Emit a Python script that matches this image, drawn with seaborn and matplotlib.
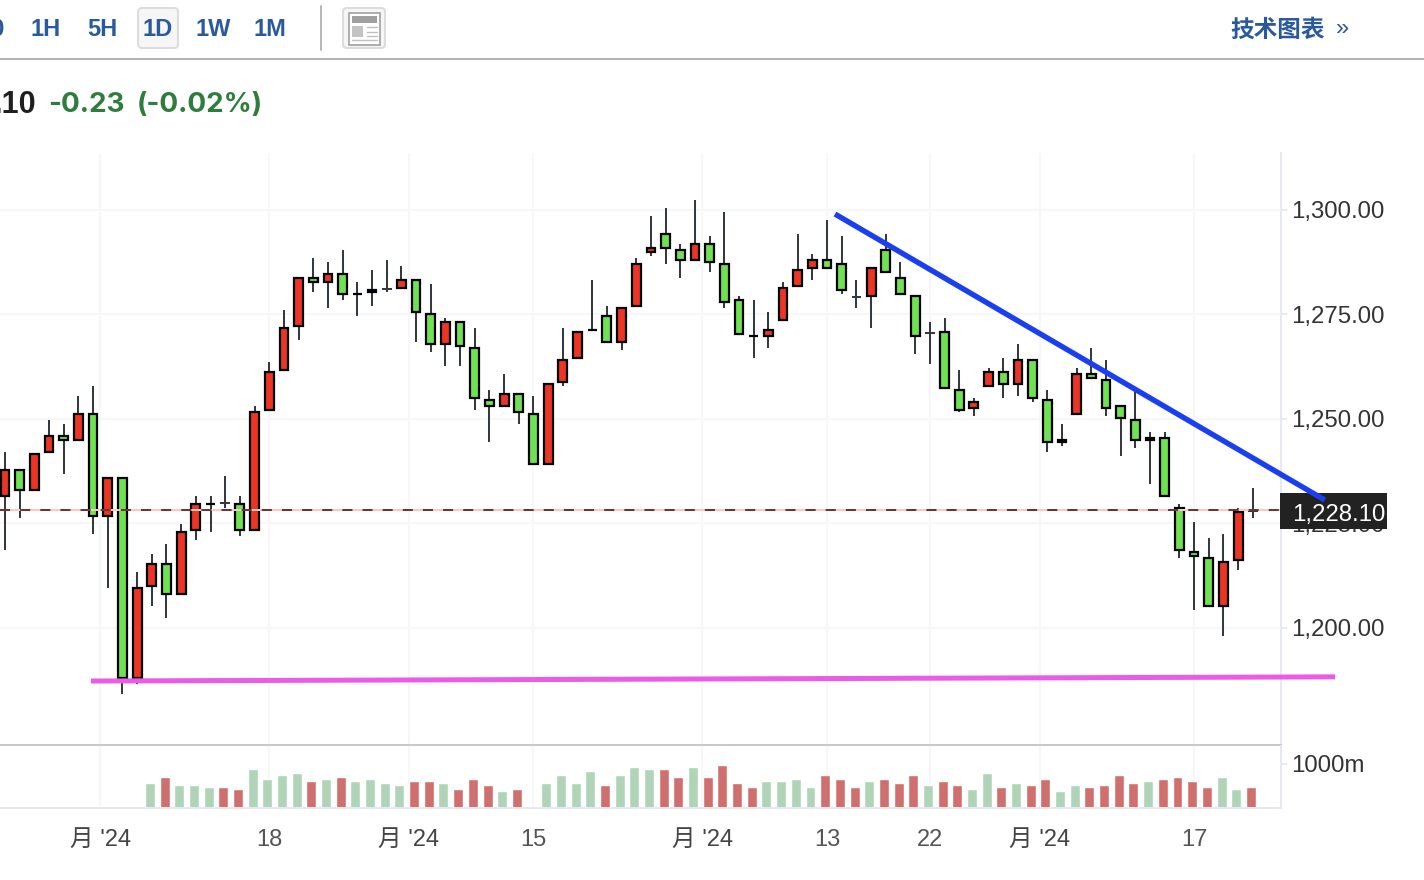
import matplotlib
matplotlib.use('Agg')
import matplotlib.pyplot as plt
from matplotlib.patches import FancyBboxPatch, Rectangle
from matplotlib.transforms import blended_transform_factory
import pandas as pd
import seaborn as sns

# candles (price)
wick_high = [1242.1, 1238.0, 1241.9, 1249.8, 1248.8, 1255.5, 1257.9, 1236.1, 1236.1, 1213.4,
             1217.7, 1220.1, 1224.9, 1231.6, 1231.6, 1236.4, 1231.6, 1253.1, 1263.6, 1276.1,
             1284.0, 1288.5, 1287.6, 1290.4, 1282.8, 1285.6, 1288.0, 1286.6, 1283.5, 1282.3,
             1274.2, 1273.4, 1271.8, 1256.9, 1260.8, 1256.2, 1255.5, 1258.6, 1271.8, 1271.1,
             1283.3, 1277.0, 1276.8, 1288.5, 1298.6, 1300.5, 1291.9, 1302.4, 1293.8, 1299.5,
             1279.4, 1278.5, 1275.6, 1282.8, 1294.3, 1289.5, 1297.6, 1293.8, 1283.3, 1286.4,
             1294.3, 1287.6, 1279.7, 1273.2, 1274.2, 1261.7, 1255.0, 1262.2, 1264.6, 1267.9,
             1264.4, 1256.9, 1248.8, 1262.2, 1267.0, 1264.1, 1253.4, 1256.5, 1246.9, 1246.9,
             1229.7, 1225.4, 1221.5, 1222.5, 1228.7, 1233.5]
body_high = [1238.0, 1238.0, 1241.9, 1246.2, 1246.2, 1251.4, 1251.4, 1236.1, 1236.1, 1209.8,
             1215.6, 1215.6, 1223.2, 1229.9, 1229.9, 1229.9, 1229.9, 1251.9, 1261.5, 1272.0,
             1284.0, 1284.0, 1284.9, 1284.9, 1280.1, 1281.1, 1281.1, 1283.5, 1283.5, 1275.4,
             1273.4, 1273.4, 1267.2, 1254.8, 1256.2, 1256.2, 1251.4, 1258.6, 1264.4, 1271.1,
             1271.5, 1274.9, 1276.8, 1287.3, 1291.1, 1294.5, 1290.7, 1292.1, 1292.1, 1287.3,
             1278.7, 1270.1, 1271.5, 1281.6, 1285.9, 1288.3, 1288.3, 1287.3, 1279.2, 1286.4,
             1290.7, 1284.0, 1279.7, 1270.6, 1271.1, 1257.2, 1254.3, 1261.5, 1261.5, 1264.4,
             1264.4, 1254.8, 1245.2, 1261.0, 1261.0, 1259.6, 1253.4, 1250.0, 1245.7, 1245.7,
             1228.9, 1218.4, 1217.0, 1216.0, 1228.0, 1228.0]
body_low = [1231.3, 1232.8, 1232.8, 1241.9, 1244.7, 1244.7, 1226.6, 1226.6, 1187.8, 1187.8,
            1209.8, 1207.9, 1207.9, 1223.2, 1229.4, 1229.9, 1223.2, 1223.2, 1251.9, 1261.5,
            1272.0, 1282.5, 1282.5, 1279.7, 1279.7, 1280.1, 1281.1, 1281.1, 1275.4, 1267.7,
            1267.7, 1267.2, 1254.8, 1252.9, 1252.9, 1251.4, 1239.0, 1239.0, 1258.6, 1264.4,
            1271.1, 1268.2, 1268.2, 1276.8, 1289.7, 1290.7, 1287.8, 1287.8, 1287.3, 1277.8,
            1270.1, 1269.6, 1269.6, 1273.4, 1281.6, 1285.9, 1285.9, 1280.6, 1279.2, 1279.2,
            1284.9, 1279.7, 1269.6, 1270.6, 1257.2, 1251.9, 1252.4, 1257.7, 1258.1, 1258.1,
            1254.8, 1244.3, 1244.3, 1251.0, 1259.6, 1252.4, 1250.0, 1244.7, 1244.7, 1231.3,
            1218.4, 1217.0, 1205.0, 1205.0, 1216.0, 1228.0]
wick_low = [1218.7, 1226.3, 1232.8, 1241.9, 1236.8, 1244.7, 1222.5, 1209.6, 1184.2, 1186.6,
            1205.3, 1202.4, 1207.9, 1221.1, 1223.0, 1228.7, 1222.0, 1223.2, 1251.9, 1261.5,
            1268.9, 1280.4, 1276.6, 1278.5, 1274.6, 1277.0, 1280.4, 1281.1, 1268.4, 1266.0,
            1262.7, 1262.7, 1252.2, 1244.5, 1252.9, 1248.8, 1239.0, 1239.0, 1257.9, 1264.4,
            1271.1, 1268.2, 1266.5, 1276.8, 1289.0, 1287.1, 1283.7, 1287.8, 1285.2, 1276.6,
            1270.1, 1264.6, 1267.0, 1273.4, 1281.6, 1283.3, 1285.9, 1279.9, 1276.6, 1271.8,
            1284.9, 1279.7, 1265.6, 1263.2, 1257.2, 1251.7, 1250.7, 1257.7, 1255.0, 1255.5,
            1254.1, 1242.1, 1243.5, 1251.0, 1259.6, 1250.7, 1241.2, 1243.1, 1234.5, 1231.3,
            1216.7, 1204.3, 1205.0, 1198.1, 1213.9, 1226.3]
# r red, g green, d doji (just a dash)
candle_kind = list('rgrrgrgrgr'
                   'rgrrgdgrrr'
                   'rgrggrdrgg'
                   'rgggrggrrr'
                   'ggrrrggrgg'
                   'ggrrrrggdr'
                   'gggdggrrgr'
                   'ggrrggggrg'
                   'gggrrd')

# volume (millions), one candle has no bar
vol_idx = list(range(10, 36)) + list(range(37, 86))
vol_values = [574, 710, 529, 529, 484, 484, 438, 892, 665, 756,
              801, 620, 665, 710, 620, 665, 574, 529, 620, 620,
              574, 438, 665, 529, 393, 438,
              574, 756, 574, 847, 529, 756, 938, 892, 892, 710,
              938, 710, 983, 574, 484, 620, 620, 665, 484, 756,
              665, 484, 620, 665, 574, 756, 529, 620, 529, 438,
              801, 484, 574, 529, 665, 393, 529, 484, 529, 756,
              574, 620, 665, 710, 620, 484, 710, 438, 484]
vol_side = list('grgggrrggg'
                'grgrggggrr'
                'grrrgr'
                'ggggrgggrr'
                'grrrrggggr'
                'rrgrrrgrrg'
                'grgrrggrrr'
                'rgrrrrggr')

# trend lines drawn on the chart
blue_x = [56.54, 89.9]
blue_y = [1299.0, 1230.6]
pink_x = [5.86, 90.6]
pink_y = [1187.3, 1188.3]

last_price = 1228.1
price_ticks = [1200, 1225, 1250, 1275, 1300]
price_labels = ['1,200.00', '1,225.00', '1,250.00', '1,275.00', '1,300.00']
time_ticks = [6.5, 18, 27.5, 36, 47.5, 56, 63, 70.5, 81]
time_labels = ["月 '24", '18', "月 '24", '15', "月 '24", '13', '22', "月 '24", '17']

RED = '#EE3424'
GREEN = '#6EE250'
BLUE_TXT = '#2A5A9C'
LINE = '#E6E9EF'
GRID = '#F7F7F8'
LW = 1.45  # 2 px at dpi 100

sns.set_theme(style='white')
plt.rcParams['font.family'] = ['Liberation Sans', 'Noto Sans CJK SC', 'DejaVu Sans']

fig = plt.figure(figsize=(14.24, 8.8), dpi=100, facecolor='white')
ax = fig.add_axes([0, 1 - 745 / 880, 1281 / 1424, (745 - 153) / 880])
ax_v = fig.add_axes([0, 1 - 808 / 880, 1281 / 1424, (808 - 746) / 880])

idx = list(range(len(wick_high)))

# candles
ax.vlines(idx, wick_low, wick_high, color='#343B40', lw=LW, zorder=3)
pad = 0.24  # the readings include the outline
for i in idx:
    if candle_kind[i] == 'd':
        ax.hlines(body_high[i], i - 0.33, i + 0.33, color='#343B40', lw=LW, zorder=3)
        continue
    lo, hi = body_low[i] + pad, body_high[i] - pad
    if hi < lo:
        lo = hi = (lo + hi) / 2
    ax.bar(i, hi - lo, bottom=lo, width=0.6, color=RED if candle_kind[i] == 'r' else GREEN,
           edgecolor='black', linewidth=1.6, zorder=4)

# last price line
ax.axhline(last_price, color='#F9C9C5', lw=LW, zorder=5)
ax.axhline(last_price, color='#6E3434', lw=LW, dashes=(5, 5), zorder=5.1)

ax.set_xlim(-0.34, 86.92)
ax.set_ylim(1172.0, 1313.6)
ax.set_xticks(time_ticks)
ax.set_yticks(price_ticks, labels=price_labels)
ax.yaxis.tick_right()
ax.tick_params(axis='x', length=0, labelbottom=False)
ax.tick_params(axis='y', length=4.3, width=LW, color=LINE, pad=3.0, labelsize=17.3, labelcolor='#333333')
ax.grid(True, color=GRID, lw=LW)
ax.set_axisbelow(True)
for s in ['top', 'left']:
    ax.spines[s].set_visible(False)
ax.spines['right'].set_color(LINE)
ax.spines['right'].set_linewidth(LW)
ax.spines['bottom'].set_color('#C9C9C9')
ax.spines['bottom'].set_linewidth(LW)
for lab in ax.get_yticklabels():
    lab.set_va('center_baseline')

# price box sits over the 1,225 label
trans = blended_transform_factory(ax.transAxes, ax.transData)
ax.add_patch(Rectangle((1280 / 1281, last_price - 4.4), 107 / 1281, 8.6, transform=trans,
                       facecolor='#222222', edgecolor='none', clip_on=False, zorder=6))
ax.text(1292 / 1281, last_price - 0.5, '1,228.10', transform=trans, color='white', fontsize=17.3,
        va='center_baseline', ha='left', zorder=7)

ax.plot(blue_x, blue_y, color='#1A3FF0', lw=3.9, clip_on=False, zorder=8, solid_capstyle='butt')
ax.plot(pink_x, pink_y, color='#EA5BE8', lw=3.6, clip_on=False, zorder=8, solid_capstyle='butt')

# volume
vol = pd.DataFrame({'x': vol_idx, 'vol': vol_values, 'side': vol_side})
sns.barplot(data=vol, x='x', y='vol', hue='side', palette={'g': '#B0D4B8', 'r': '#D0706E'},
            native_scale=True, dodge=False, width=0.68, saturation=1, legend=False, ax=ax_v)
ax_v.set_xlim(-0.34 + 0.13, 86.92 + 0.13)
ax_v.set_ylim(0, 1408)
ax_v.set(xlabel='', ylabel='')
ax_v.set_xticks([t + 0.13 for t in time_ticks], labels=time_labels)
ax_v.set_yticks([1000], labels=['1000m'])
ax_v.yaxis.tick_right()
ax_v.tick_params(axis='x', length=8.6, width=LW, color=LINE, pad=6.5, labelsize=17, labelcolor='#555555')
ax_v.tick_params(axis='y', length=4.3, width=LW, color=LINE, pad=3.0, labelsize=17.3, labelcolor='#333333')
ax_v.grid(True, axis='x', color=GRID, lw=LW)
ax_v.set_axisbelow(True)
for s in ['top', 'left']:
    ax_v.spines[s].set_visible(False)
for s in ['right', 'bottom']:
    ax_v.spines[s].set_color(LINE)
    ax_v.spines[s].set_linewidth(LW)
for lab in ax_v.get_xticklabels():
    if '月' in lab.get_text():
        lab.set_color('#444444')
for lab in ax_v.get_yticklabels():
    lab.set_va('center_baseline')

# page header above the chart
top = fig.add_axes([0, 0, 1, 1], facecolor='none')
top.set_xlim(0, 1424)
top.set_ylim(880, 0)
top.axis('off')
top.plot([0, 1424], [59, 59], color='#B4B4B4', lw=LW)
top.plot([321, 321], [6, 50], color='#B8B8B8', lw=LW)
top.add_patch(FancyBboxPatch((138, 8), 40, 40, boxstyle='round,pad=0,rounding_size=4',
                             facecolor='#F6F6F6', edgecolor='#DCDCDC', lw=LW))
top.add_patch(FancyBboxPatch((343, 8), 42, 40, boxstyle='round,pad=0,rounding_size=4',
                             facecolor='#F6F6F6', edgecolor='#DCDCDC', lw=LW))
top.add_patch(Rectangle((349, 13), 31, 32, facecolor='white', edgecolor='#A0A0A0', lw=1.2))
top.add_patch(Rectangle((352, 16), 25, 7, facecolor='#A0A0A0', edgecolor='none'))
top.add_patch(Rectangle((352, 26), 11, 11, facecolor='#C4C4C4', edgecolor='none'))
for yy in [27, 32, 36]:
    top.plot([367, 377], [yy, yy], color='#C0C0C0', lw=1)
top.plot([352, 377], [40, 40], color='#C0C0C0', lw=1)

top.text(5, 30, '30', ha='right', va='center', color=BLUE_TXT, fontsize=17, fontweight='bold')
for label, xc in zip(['1H', '5H', '1D', '1W', '1M'], [46, 102, 158, 213, 270]):
    top.text(xc, 30, label, ha='center', va='center', color=BLUE_TXT, fontsize=17, fontweight='bold')
top.text(1230, 30, '技术图表', ha='left', va='center', color=BLUE_TXT, fontsize=17, fontweight='bold')
top.text(1343, 29, '»', ha='center', va='center', color=BLUE_TXT, fontsize=17)

top.text(36, 105, '.10', ha='right', va='center', color='#1F1F1F', fontsize=22, fontweight='bold')
top.text(48, 105, '-0.23', ha='left', va='center', color='#2E7D3C', fontsize=20, fontweight='bold',
         family=['Inter', 'DejaVu Sans'])
top.text(137, 105, '(-0.02%)', ha='left', va='center', color='#2E7D3C', fontsize=20, fontweight='bold',
         family=['Inter', 'DejaVu Sans'])

fig.savefig('out.png', dpi=100)
